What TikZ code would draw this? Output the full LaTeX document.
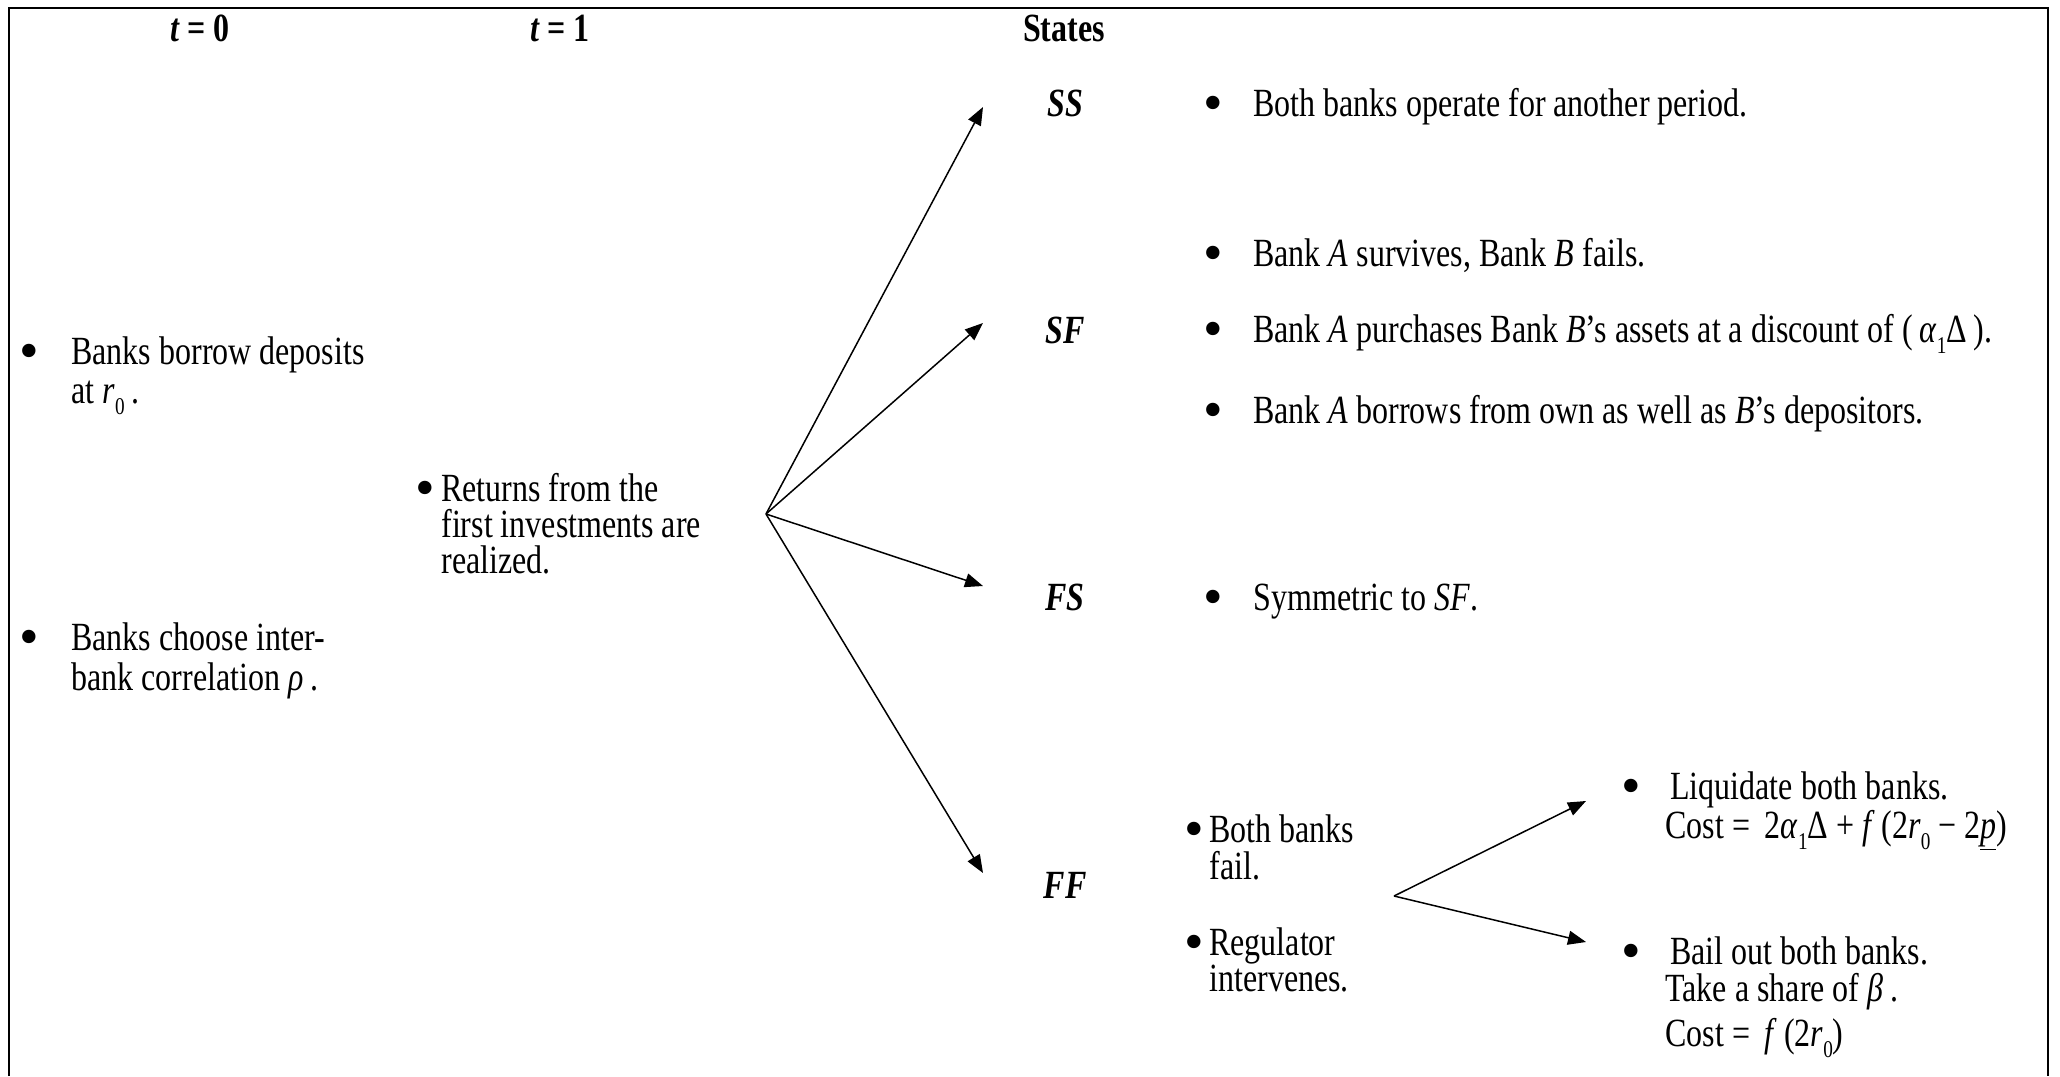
\documentclass[tikz,border=0pt]{standalone}
\usepackage{fontspec}
\setmainfont[FakeStretch=0.8]{Liberation Serif}
\usetikzlibrary{arrows.meta}
\newcommand\mysub[1]{\raisebox{-0.28em}{\fontsize{12}{12}\selectfont #1}}
\newcommand\bigbul{\scalebox{1.25}[1]{•}}
\tikzset{
  txt/.style={anchor=base west, inner sep=0pt, font=\fontsize{20}{24}\selectfont},
  bul/.style={anchor=center, inner sep=0pt, yshift=3.4pt, font=\fontsize{28}{28}\selectfont},
  hdr/.style={anchor=base, inner sep=0pt, font=\fontsize{20}{24}\selectfont\bfseries},
  arr/.style={line width=0.75pt, -{Triangle[length=9pt,width=7pt]}},
  frame/.style={line width=1pt}
}
\begin{document}
\begin{tikzpicture}[x=0.5pt,y=-0.5pt]
\useasboundingbox (0,0) rectangle (2060,1076);
\draw[frame] (9,1076) -- (9,8) -- (2048,8) -- (2048,1076);

% headers
\node[hdr] (h0) at (200,41) {\textit{t} = 0};
\node[hdr] (h1) at (560,41) {\textit{t} = 1};
\node[hdr] (h2) at (1064,41) {States};

% t = 0 column
\node[bul] (b1) at (29,364) {\bigbul};
\node[txt] (l1a) at (71,364) {Banks borrow deposits};
\node[txt] (l1b) at (71,403) {at \textit{r}\mysub{0}\,.};
\node[bul] (b2) at (29,650) {\bigbul};
\node[txt] (l2a) at (71,650) {Banks choose inter-};
\node[txt] (l2b) at (71,690) {bank correlation \textit{ρ}\,.};

% t = 1 column
\node[bul] (b3) at (425,501) {\bigbul};
\node[txt] (l3a) at (441,501) {Returns from the};
\node[txt] (l3b) at (441,537) {first investments are};
\node[txt] (l3c) at (441,573) {realized.};

% states
\node[hdr] (ss) at (1065,116) {\textit{SS}};
\node[hdr] (sf) at (1065,343) {\textit{SF}};
\node[hdr] (fs) at (1065,610) {\textit{FS}};
\node[hdr] (ff) at (1065,898) {\textit{FF}};

% arrows
\coordinate (o) at (766,514);
\coordinate (tss) at (983,107);
\coordinate (tsf) at (983,323);
\coordinate (tfs) at (983,586);
\coordinate (tff) at (983,873);
\draw[arr] (o) -- (tss);
\draw[arr] (o) -- (tsf);
\draw[arr] (o) -- (tfs);
\draw[arr] (o) -- (tff);

% state descriptions
\node[bul] (d1b) at (1213,116) {\bigbul};
\node[txt] (d1) at (1253,116) {Both banks operate for another period.};
\node[bul] (d2b) at (1213,266) {\bigbul};
\node[txt] (d2) at (1253,266) {Bank \textit{A} survives, Bank \textit{B} fails.};
\node[bul] (d3b) at (1213,342) {\bigbul};
\node[txt] (d3) at (1253,342) {Bank \textit{A} purchases Bank \textit{B}’s assets at a discount of (\,\textit{α}\mysub{1}Δ\,).};
\node[bul] (d4b) at (1213,423) {\bigbul};
\node[txt] (d4) at (1253,423) {Bank \textit{A} borrows from own as well as \textit{B}’s depositors.};
\node[bul] (d5b) at (1213,610) {\bigbul};
\node[txt] (d5) at (1253,610) {Symmetric to \textit{SF}.};

% FF
\node[bul] (f1b) at (1194,842) {\bigbul};
\node[txt] (f1a) at (1209,842) {Both banks};
\node[txt] (f1c) at (1209,879) {fail.};
\node[bul] (f2b) at (1194,955) {\bigbul};
\node[txt] (f2a) at (1209,955) {Regulator};
\node[txt] (f2c) at (1209,991) {intervenes.};

\coordinate (o2) at (1394,896);
\coordinate (tl) at (1586,801);
\coordinate (tb) at (1586,942);
\draw[arr] (o2) -- (tl);
\draw[arr] (o2) -- (tb);

\node[bul] (g1b) at (1631,799) {\bigbul};
\node[txt] (g1a) at (1670,799) {Liquidate both banks.};
\node[txt] (g1c) at (1665,838) {Cost = \,2\textit{α}\mysub{1}Δ + \textit{f}\,(2\textit{r}\mysub{0} − 2\underline{\textit{p}})};
\node[bul] (g2b) at (1631,964) {\bigbul};
\node[txt] (g2a) at (1670,964) {Bail out both banks.};
\node[txt] (g2c) at (1665,1001) {Take a share of \textit{β}\,.};
\node[txt] (g2d) at (1665,1046) {Cost = \,\textit{f}\,(2\textit{r}\mysub{0})};
\end{tikzpicture}
\end{document}
